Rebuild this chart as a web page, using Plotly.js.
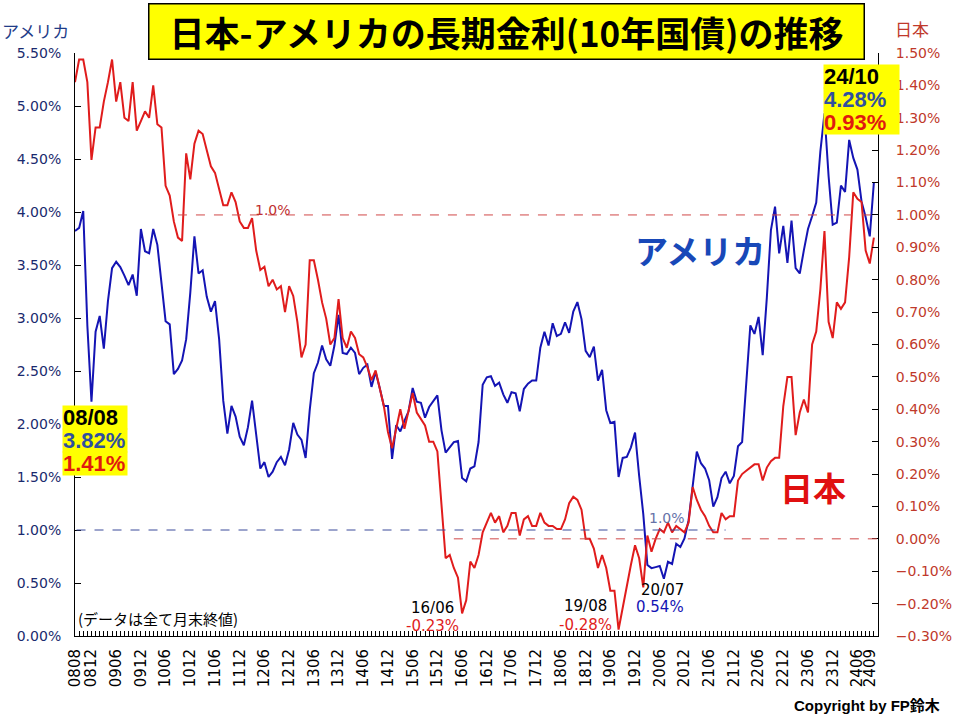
<!DOCTYPE html>
<html>
<head>
<meta charset="utf-8">
<script src="https://cdn.plot.ly/plotly-3.0.1.min.js"></script>
<style>html,body{margin:0;padding:0;background:#fff;}#chart{width:960px;height:720px;}</style>
</head>
<body>
<div id="chart"></div>
<script>
// ---- Data (month-end 10Y yields, %) ----
// Months 2008/08 .. 2024/10 as "YYMM"
const months = [];
for (let y = 2008; y <= 2024; y++) {
  for (let m = 1; m <= 12; m++) {
    if (y === 2008 && m < 8) continue;
    if (y === 2024 && m > 10) continue;
    months.push(String(y).slice(2) + String(m).padStart(2, '0'));
  }
}

const tickLabels = ['0808','0812','0906','0912','1006','1012','1106','1112','1206','1212',
  '1306','1312','1406','1412','1506','1512','1606','1612','1706','1712','1806','1812',
  '1906','1912','2006','2012','2106','2112','2206','2212','2306','2312','2406','2409'];

const usYield = [
  3.82, 3.85, 4.01, 2.93, 2.21,
  2.87, 3.02, 2.71, 3.16, 3.47, 3.53, 3.48, 3.40, 3.31, 3.41, 3.21, 3.84,
  3.63, 3.61, 3.84, 3.69, 3.31, 2.97, 2.94, 2.47, 2.52, 2.60, 2.80, 3.24,
  3.77, 3.42, 3.45, 3.20, 3.06, 3.16, 2.80, 2.22, 1.91, 2.17, 2.07, 1.88,
  1.80, 1.97, 2.22, 1.91, 1.58, 1.64, 1.50, 1.55, 1.64, 1.69, 1.61, 1.76,
  2.01, 1.90, 1.85, 1.68, 2.13, 2.48, 2.58, 2.74, 2.61, 2.55, 2.74, 3.03,
  2.67, 2.66, 2.72, 2.67, 2.47, 2.53, 2.56, 2.35, 2.49, 2.34, 2.17, 2.17,
  1.67, 1.99, 1.93, 2.03, 2.12, 2.34, 2.21, 2.20, 2.06, 2.16, 2.21, 2.27,
  1.94, 1.73, 1.78, 1.83, 1.84, 1.49, 1.46, 1.58, 1.60, 1.83, 2.37, 2.44,
  2.45, 2.36, 2.39, 2.28, 2.20, 2.30, 2.29, 2.12, 2.33, 2.38, 2.41, 2.41,
  2.72, 2.87, 2.74, 2.95, 2.83, 2.85, 2.96, 2.86, 3.06, 3.15, 2.99, 2.69,
  2.63, 2.73, 2.41, 2.51, 2.13, 2.01, 2.02, 1.50, 1.68, 1.69, 1.78, 1.92,
  1.51, 1.15, 0.67, 0.64, 0.65, 0.66, 0.54, 0.70, 0.68, 0.87, 0.84, 0.92,
  1.09, 1.44, 1.74, 1.63, 1.58, 1.47, 1.22, 1.31, 1.49, 1.55, 1.44, 1.51,
  1.79, 1.83, 2.34, 2.93, 2.85, 3.01, 2.65, 3.19, 3.83, 4.05, 3.61, 3.87,
  3.52, 3.92, 3.47, 3.42, 3.64, 3.84, 3.96, 4.09, 4.57, 4.93, 4.34, 3.88,
  3.90, 4.25, 4.19, 4.68, 4.51, 4.40, 4.10, 3.95, 3.77, 4.28
];

const jpYield = [
  1.41, 1.48, 1.48, 1.41, 1.17,
  1.27, 1.27, 1.35, 1.41, 1.48, 1.35, 1.41, 1.30, 1.29, 1.41, 1.26, 1.29,
  1.32, 1.30, 1.40, 1.28, 1.27, 1.09, 1.06, 0.98, 0.93, 0.92, 1.19, 1.11,
  1.22, 1.26, 1.25, 1.20, 1.15, 1.13, 1.08, 1.03, 1.03, 1.07, 1.04, 0.98,
  0.96, 0.96, 0.99, 0.89, 0.83, 0.84, 0.78, 0.80, 0.77, 0.78, 0.70, 0.78,
  0.75, 0.67, 0.56, 0.60, 0.86, 0.86, 0.80, 0.73, 0.68, 0.60, 0.62, 0.74,
  0.62, 0.59, 0.64, 0.62, 0.57, 0.56, 0.53, 0.49, 0.52, 0.46, 0.41, 0.33,
  0.28, 0.34, 0.40, 0.34, 0.40, 0.45, 0.39, 0.37, 0.35, 0.30, 0.30, 0.27,
  0.10, -0.06, -0.05, -0.09, -0.12, -0.23, -0.19, -0.07, -0.09, -0.05, 0.02, 0.05,
  0.08, 0.05, 0.07, 0.02, 0.04, 0.08, 0.08, 0.01, 0.06, 0.07, 0.04, 0.04,
  0.08, 0.05, 0.04, 0.04, 0.03, 0.03, 0.06, 0.11, 0.13, 0.12, 0.09, 0.00,
  0.00, -0.03, -0.09, -0.05, -0.09, -0.16, -0.16, -0.28, -0.21, -0.14, -0.08, -0.02,
  -0.06, -0.15, 0.01, -0.04, 0.00, 0.03, 0.02, 0.05, 0.02, 0.04, 0.03, 0.02,
  0.05, 0.16, 0.12, 0.09, 0.07, 0.04, 0.02, 0.02, 0.08, 0.06, 0.07, 0.07,
  0.18, 0.20, 0.21, 0.22, 0.23, 0.23, 0.18, 0.22, 0.24, 0.25, 0.25, 0.41,
  0.50, 0.50, 0.32, 0.39, 0.43, 0.39, 0.60, 0.64, 0.77, 0.95, 0.67, 0.62,
  0.73, 0.71, 0.73, 0.87, 1.07, 1.05, 1.04, 0.89, 0.85, 0.93
];

// Reference dashed lines (level, start/end category position)
const refUS = {level: 1.0, from: -4, to: 158};
const refJP1 = {level: 1.0, from: 25, to: 195};
const refJP0 = {level: 0.0, from: 92, to: 195};

// ---- Styling helpers ----
const CJK = '"Noto Sans CJK JP", "DejaVu Sans", sans-serif';
const SANS = '"DejaVu Sans", "Liberation Sans", sans-serif';
const ARIAL = '"Liberation Sans", Arial, sans-serif';
const BLUE = '#1414b4';
const RED = '#e01c1c';

const tickText = months.map(m => tickLabels.includes(m) ? m : '');
const iOf = k => months.indexOf(k);
const fmt = v => v.toFixed(2) + '%';
const ym = k => k.slice(0, 2) + '/' + k.slice(2);

const traces = [
  {x: months, y: usYield, type: 'scatter', mode: 'lines', yaxis: 'y',
   line: {color: BLUE, width: 2}, hoverinfo: 'skip'},
  {x: months, y: jpYield, type: 'scatter', mode: 'lines', yaxis: 'y2',
   line: {color: RED, width: 2}, hoverinfo: 'skip'}
];

function pxX(px) { return (px - 75) / 803; }
function pxY(py) { return (636 - py) / 583; }

const last = months.length - 1;
const i1606 = iOf('1606'), i1908 = iOf('1908'), i2007 = iOf('2007');

// yellow value box: three stacked annotations
function valueBox(left, top, w, idx) {
  const lines = [
    {t: ym(months[idx]), c: '#000000'},
    {t: fmt(usYield[idx]), c: '#2f4fa0'},
    {t: fmt(jpYield[idx]), c: '#e01a10'}
  ];
  return lines.map((ln, k) => ({
    text: '<b>' + ln.t + '</b>', xref: 'paper', yref: 'paper',
    x: pxX(left), y: pxY(top + k * 23), xanchor: 'left', yanchor: 'top',
    showarrow: false, align: 'left', width: w, height: 23, borderpad: 0,
    bgcolor: '#ffff00', font: {family: ARIAL, size: 22, color: ln.c}
  }));
}

const annotations = [
  {text: '<b>日本-アメリカの長期金利(10年国債)の推移</b>', xref: 'paper', yref: 'paper',
   x: pxX(506), y: pxY(32), xanchor: 'center', yanchor: 'middle', showarrow: false,
   font: {family: CJK, size: 35, color: '#000'}, bgcolor: '#ffff00', bordercolor: '#000',
   borderwidth: 1.5, borderpad: 3, width: 708, height: 48},
  {text: 'アメリカ', xref: 'paper', yref: 'paper', x: pxX(35), y: pxY(30), showarrow: false,
   xanchor: 'center', yanchor: 'middle', font: {family: CJK, size: 17, color: '#1f3c88'}},
  {text: '日本', xref: 'paper', yref: 'paper', x: pxX(912), y: pxY(28), showarrow: false,
   xanchor: 'center', yanchor: 'middle', font: {family: CJK, size: 17, color: '#c0392b'}},
  ...valueBox(62, 405, 64, 0),
  ...valueBox(823, 64, 75, last),
  {text: '<b>アメリカ</b>', xref: 'paper', yref: 'paper', x: pxX(700), y: pxY(250),
   xanchor: 'center', yanchor: 'middle', showarrow: false,
   font: {family: CJK, size: 33, color: '#1848b8'}},
  {text: '<b>日本</b>', xref: 'paper', yref: 'paper', x: pxX(813), y: pxY(487),
   xanchor: 'center', yanchor: 'middle', showarrow: false,
   font: {family: CJK, size: 33, color: '#e01010'}},
  {text: '1.0%', xref: 'paper', yref: 'paper', x: pxX(273), y: pxY(210), showarrow: false,
   xanchor: 'center', yanchor: 'middle', font: {family: SANS, size: 14, color: '#c03030'}},
  {text: '1.0%', xref: 'paper', yref: 'paper', x: pxX(667), y: pxY(518), showarrow: false,
   xanchor: 'center', yanchor: 'middle', font: {family: SANS, size: 14, color: '#6672a8'}},
  {text: ym(months[i1606]), xref: 'paper', yref: 'paper',
   x: pxX(432), y: pxY(608), showarrow: false, xanchor: 'center', yanchor: 'middle',
   font: {family: SANS, size: 15, color: '#000'}},
  {text: fmt(jpYield[i1606]), xref: 'paper', yref: 'paper', x: pxX(432), y: pxY(626),
   showarrow: false, xanchor: 'center', yanchor: 'middle',
   font: {family: SANS, size: 15, color: '#e01c1c'}},
  {text: ym(months[i1908]), xref: 'paper', yref: 'paper',
   x: pxX(585), y: pxY(606), showarrow: false, xanchor: 'center', yanchor: 'middle',
   font: {family: SANS, size: 15, color: '#000'}},
  {text: fmt(jpYield[i1908]), xref: 'paper', yref: 'paper', x: pxX(585), y: pxY(625),
   showarrow: false, xanchor: 'center', yanchor: 'middle',
   font: {family: SANS, size: 15, color: '#e01c1c'}},
  {text: ym(months[i2007]), xref: 'paper', yref: 'paper',
   x: pxX(662), y: pxY(590), showarrow: false, xanchor: 'center', yanchor: 'middle',
   font: {family: SANS, size: 15, color: '#000'}},
  {text: fmt(usYield[i2007]), xref: 'paper', yref: 'paper', x: pxX(660), y: pxY(607),
   showarrow: false, xanchor: 'center', yanchor: 'middle',
   font: {family: SANS, size: 15, color: '#1414b4'}},
  {text: '(データは全て月末終値)', xref: 'paper', yref: 'paper', x: pxX(76), y: pxY(618),
   showarrow: false, xanchor: 'left', yanchor: 'middle',
   font: {family: CJK, size: 15, color: '#000'}},
  {text: '<b>Copyright by FP鈴木</b>', xref: 'paper', yref: 'paper', x: pxX(942), y: pxY(705),
   showarrow: false, xanchor: 'right', yanchor: 'middle',
   font: {family: ARIAL + ', "Noto Sans CJK JP"', size: 15, color: '#000'}}
];

const shapes = [
  {type: 'line', xref: 'x', yref: 'y', x0: refUS.from, x1: refUS.to, y0: refUS.level, y1: refUS.level,
   line: {color: '#3a4a9a', width: 1, dash: 'dash'}},
  {type: 'line', xref: 'x', yref: 'y2', x0: refJP1.from, x1: refJP1.to, y0: refJP1.level, y1: refJP1.level,
   line: {color: '#d04848', width: 1, dash: 'dash'}},
  {type: 'line', xref: 'x', yref: 'y2', x0: refJP0.from, x1: refJP0.to, y0: refJP0.level, y1: refJP0.level,
   line: {color: '#d04848', width: 1, dash: 'dash'}}
];

const layout = {
  width: 960, height: 720,
  margin: {l: 75, r: 82, t: 53, b: 84, pad: 0},
  paper_bgcolor: '#ffffff', plot_bgcolor: '#ffffff',
  showlegend: false,
  xaxis: {
    type: 'category', range: [0, 195], tickmode: 'array', tickvals: months, ticktext: tickText,
    tickangle: -90, ticks: 'inside', ticklen: 5, tickwidth: 1, tickcolor: '#000',
    showline: true, linecolor: '#000', linewidth: 1, showgrid: false, zeroline: false,
    tickfont: {family: SANS, size: 15, color: '#000'}, ticklabelstandoff: 6, automargin: false,
    fixedrange: true
  },
  yaxis: {
    range: [0, 5.5], tick0: 0, dtick: 0.5, tickformat: '.2f', ticksuffix: '%',
    ticks: 'inside', ticklen: 6, tickcolor: '#000', showline: true, linecolor: '#000', linewidth: 1,
    showgrid: false, zeroline: false, tickfont: {family: SANS, size: 14, color: '#1a2a6e'},
    ticklabelstandoff: 10, automargin: false
  },
  yaxis2: {
    overlaying: 'y', side: 'right', range: [-0.3, 1.5], tick0: 0, dtick: 0.1,
    tickformat: '.2f', ticksuffix: '%',
    ticks: 'inside', ticklen: 6, tickcolor: '#000', showline: true, linecolor: '#000', linewidth: 1,
    showgrid: false, zeroline: false, tickfont: {family: SANS, size: 14, color: '#c0392b'},
    ticklabelstandoff: 14, automargin: false
  },
  annotations: annotations,
  shapes: shapes
};

Plotly.newPlot('chart', traces, layout, {displayModeBar: false, staticPlot: true});
</script>
</body>
</html>
